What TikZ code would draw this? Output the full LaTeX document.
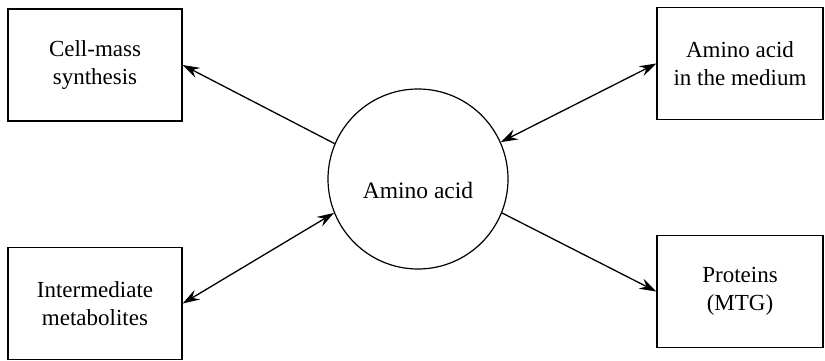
\documentclass[tikz,border=0pt]{standalone}
\usepackage{fontspec}
\setmainfont{Liberation Serif}
\usetikzlibrary{arrows.meta}
\begin{document}
\begin{tikzpicture}[x=1pt,y=-1pt,
  txt/.style={font=\fontsize{23}{28}\selectfont},
  boxnode/.style={draw,txt,line width=1.4pt,minimum width=174pt,minimum height=112pt,align=center,inner sep=0pt},
  conn/.style={line width=1.3pt,-{Stealth[length=17pt,width=11pt,inset=6pt]}},
  dconn/.style={line width=1.3pt,{Stealth[length=17pt,width=11pt,inset=6pt]}-{Stealth[length=17pt,width=11pt,inset=6pt]}}]
\useasboundingbox (0,0) rectangle (825,361);
\node[boxnode] (b1) at (95,65) {Cell-mass\\synthesis};
\node[boxnode,minimum width=166pt] (b2) at (740,63.5) {Amino acid\\in the medium};
\node[boxnode] (b3) at (95,303.5) {Intermediate\\metabolites};
\node[boxnode,minimum width=166pt] (b4) at (740,291.5) {Proteins\\(MTG)};
\node[draw,circle,line width=1.2pt,minimum size=180pt,inner sep=0pt] (c) at (418,179) {};
\node[font=\fontsize{23.5}{28}\selectfont] (ct) at (418,190) {Amino acid};
\draw[conn] (c.157) -- (b1.east);
\draw[dconn] (c.24) -- (b2.west);
\draw[dconn] (c.-158) -- (b3.east);
\draw[conn] (c.-22) -- (b4.west);
\end{tikzpicture}
\end{document}
